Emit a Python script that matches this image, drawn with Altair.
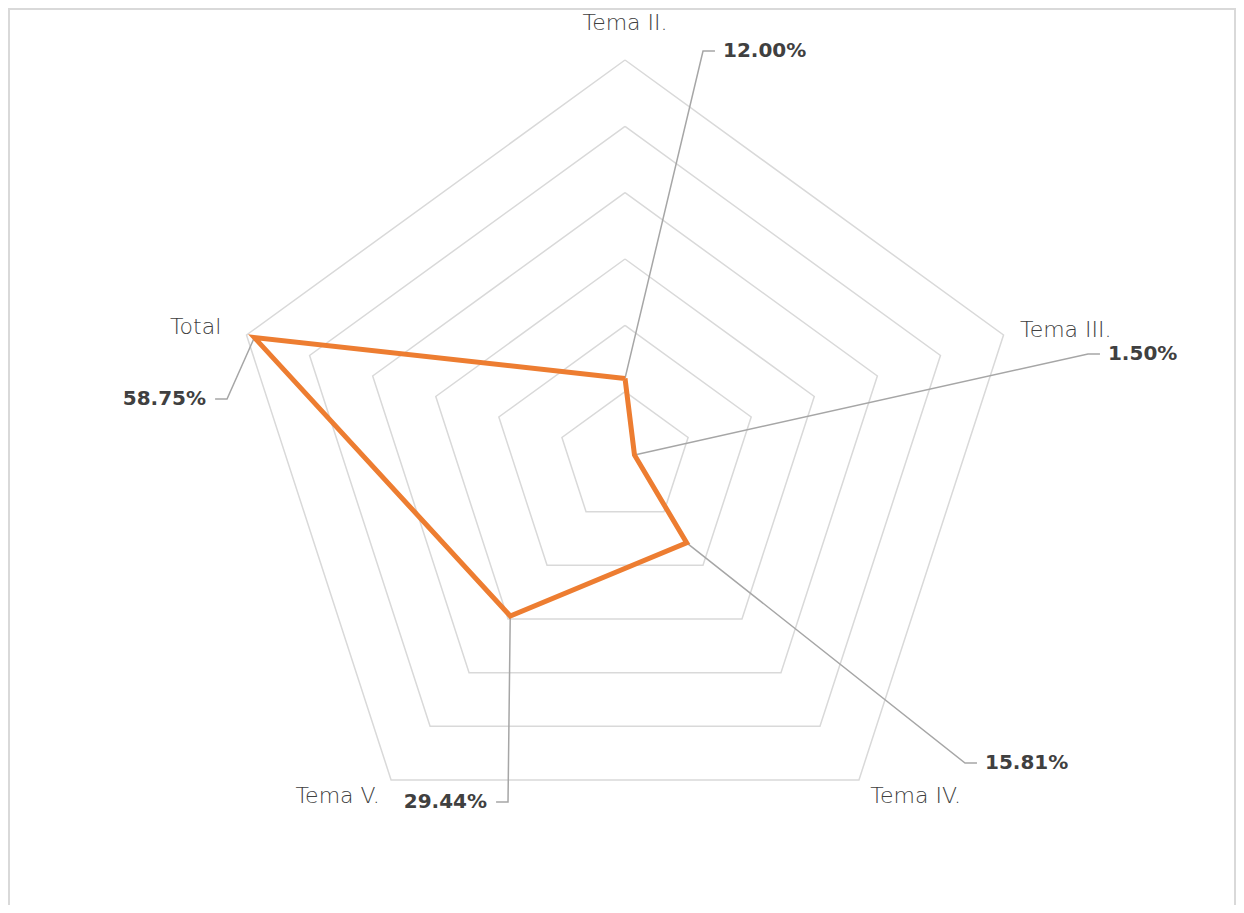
import altair as alt
import pandas as pd

# ---- data ----
categories = ["Tema II.", "Tema III.", "Tema IV.", "Tema V.", "Total"]
values = [12.00, 1.50, 15.81, 29.44, 58.75]
grid_levels = [10, 20, 30, 40, 50, 60]

# ---- annotation layout (in value units, like Excel's manually placed labels) ----
cat_label_r = [65.6, 62.6, 62.9, 62.9, 64.0]
cat_label_align = ["center", "left", "left", "right", "right"]
leader_elbow_x = [11.76, 69.8, 51.26, -17.64, -60.0]
leader_elbow_y = [61.36, 15.68, -45.98, -51.86, 8.9]
leader_side = [1, 1, 1, -1, -1]

N = len(categories)
W, H = 1228, 897
ANG = "datum.idx * 2 * PI / %d" % N

grid_df = pd.DataFrame(
    [{"level": lv, "idx": k % N, "order": k} for lv in grid_levels for k in range(N + 1)]
)
radar_df = pd.DataFrame(
    [{"cat": categories[k % N], "idx": k % N, "value": values[k % N], "order": k} for k in range(N + 1)]
)
leader_df = pd.DataFrame(
    [
        {"cat": categories[i], "idx": i, "value": values[i], "seq": s,
         "ex": leader_elbow_x[i], "ey": leader_elbow_y[i], "side": leader_side[i]}
        for i in range(N) for s in range(3)
    ]
)
dlabel_df = pd.DataFrame(
    [{"cat": categories[i], "value": values[i], "ex": leader_elbow_x[i],
      "ey": leader_elbow_y[i], "side": leader_side[i]} for i in range(N)]
)
clabel_df = pd.DataFrame(
    [{"cat": categories[i], "idx": i, "r": cat_label_r[i], "align": cat_label_align[i]} for i in range(N)]
)

xs = alt.Scale(domain=[-93.02, 92.11], nice=False, zero=False)
ys = alt.Scale(domain=[-67.39, 67.84], nice=False, zero=False)
X = alt.X("x:Q", scale=xs, axis=None)
Y = alt.Y("y:Q", scale=ys, axis=None)

grid = alt.Chart(grid_df).transform_calculate(
    x="datum.level * sin(%s)" % ANG, y="datum.level * cos(%s)" % ANG
).mark_line(color="#d9d9d9", strokeWidth=1.5).encode(
    x=X, y=Y, detail="level:N", order="order:Q"
)

radar = alt.Chart(radar_df).transform_calculate(
    x="datum.value * sin(%s)" % ANG, y="datum.value * cos(%s)" % ANG
).mark_line(color="#ED7D31", strokeWidth=5, strokeJoin="miter").encode(
    x=X, y=Y, order="order:Q"
)

leaders = alt.Chart(leader_df).transform_calculate(
    x="datum.seq == 0 ? datum.value * sin(%s) : (datum.seq == 1 ? datum.ex : datum.ex + datum.side * 1.8)" % ANG,
    y="datum.seq == 0 ? datum.value * cos(%s) : datum.ey" % ANG,
).mark_line(color="#a6a6a6", strokeWidth=1.5).encode(
    x=X, y=Y, detail="cat:N", order="seq:Q"
)

def data_labels(side, align, dx):
    return alt.Chart(dlabel_df).transform_filter(
        "datum.side == %d" % side
    ).transform_calculate(
        x="datum.ex + datum.side * 1.8", y="datum.ey",
        label="format(datum.value, '.2f') + '%'",
    ).mark_text(
        align=align, baseline="middle", dx=dx, font="DejaVu Sans", fontWeight="bold",
        fontSize=20, color="#404040",
    ).encode(x=X, y=Y, text="label:N")

def cat_labels(align):
    return alt.Chart(clabel_df).transform_filter(
        "datum.align == '%s'" % align
    ).transform_calculate(
        x="datum.r * sin(%s)" % ANG, y="datum.r * cos(%s)" % ANG
    ).mark_text(
        align=align, baseline="middle", font="DejaVu Sans", fontWeight=200,
        fontSize=22, color="#404040",
    ).encode(x=X, y=Y, text="cat:N")

one = pd.DataFrame({"k": [0]})
border_l = alt.Chart(one).mark_rule(color="#d9d9d9", strokeWidth=2).encode(
    x=alt.value(1), y=alt.value(0), y2=alt.value(H))
border_t = alt.Chart(one).mark_rule(color="#d9d9d9", strokeWidth=2).encode(
    x=alt.value(0), x2=alt.value(W), y=alt.value(1))
border_r = alt.Chart(one).mark_rule(color="#d9d9d9", strokeWidth=2).encode(
    x=alt.value(W - 1), y=alt.value(0), y2=alt.value(H))

chart = alt.layer(
    border_l, border_t, border_r,
    grid, leaders, radar,
    data_labels(1, "left", 8), data_labels(-1, "right", -9),
    cat_labels("center"), cat_labels("left"), cat_labels("right"),
).properties(
    width=W, height=H, padding=0, autosize=alt.AutoSizeParams(type="none")
).configure_view(stroke="transparent")

chart.save("out.html", embed_options={"renderer": "svg", "actions": False})
